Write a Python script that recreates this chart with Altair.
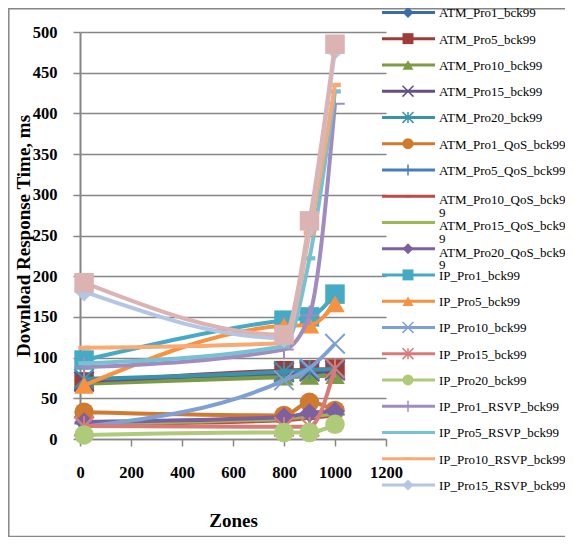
import altair as alt
import pandas as pd

# ---------------- data ----------------
zones = [16, 800, 900, 1000]

series_names = [
    "ATM_Pro1_bck99", "ATM_Pro5_bck99", "ATM_Pro10_bck99", "ATM_Pro15_bck99",
    "ATM_Pro20_bck99", "ATM_Pro1_QoS_bck99", "ATM_Pro5_QoS_bck99",
    "ATM_Pro10_QoS_bck99", "ATM_Pro15_QoS_bck99", "ATM_Pro20_QoS_bck99",
    "IP_Pro1_bck99", "IP_Pro5_bck99", "IP_Pro10_bck99", "IP_Pro15_bck99",
    "IP_Pro20_bck99", "IP_Pro1_RSVP_bck99", "IP_Pro5_RSVP_bck99",
    "IP_Pro10_RSVP_bck99", "IP_Pro15_RSVP_bck99", "IP_Pro20_RSVP_bck99",
]

response_times = [
    [72, 80, 82, 83],
    [70, 84, 85, 86],
    [68, 76, 77, 78],
    [71, 82, 83, 84],
    [74, 83, 85, 86],
    [33, 29, 45, 35],
    [19, 24, 27, 30],
    [18, 23, 26, 29],
    [19, 25, 28, 31],
    [21, 27, 32, 34],
    [97, 146, 150, 178],
    [66, 139, 140, 166],
    [15, 72, 87, 117],
    [16, 15, 15, 87],
    [5, 8, 8, 18],
    [88, 110, 152, 412],
    [93, 114, 222, 427],
    [112, 118, 253, 435],
    [181, 124, 262, 478],
    [192, 128, 268, 485],
]

series_colors = [
    "#3C6BAA", "#9E3C3A", "#7D9A45", "#664F87", "#3A93AB", "#D07A30",
    "#4A7EBB", "#BE4B48", "#98B954", "#7D60A0",
    "#46AAC5", "#F69240", "#7EA0D3", "#D87B78", "#AECB7A",
    "#A08CBF", "#78C0D4", "#F8AA72", "#B3C6E3", "#DAB3B2",
]

series_markers = [
    "diamond", "square", "triangle", "x", "star", "circle", "plus", "dash",
    "dash", "diamond", "square", "triangle", "x", "star", "circle", "plus",
    "dash", "dash", "diamond", "square",
]

legend_labels = [
    "ATM_Pro1_bck99", "ATM_Pro5_bck99", "ATM_Pro10_bck99", "ATM_Pro15_bck99",
    "ATM_Pro20_bck99", "ATM_Pro1_QoS_bck99", "ATM_Pro5_QoS_bck99",
    "ATM_Pro10_QoS_bck9\n9", "ATM_Pro15_QoS_bck9\n9", "ATM_Pro20_QoS_bck9\n9",
    "IP_Pro1_bck99", "IP_Pro5_bck99", "IP_Pro10_bck99", "IP_Pro15_bck99",
    "IP_Pro20_bck99", "IP_Pro1_RSVP_bck99", "IP_Pro5_RSVP_bck99",
    "IP_Pro10_RSVP_bck99", "IP_Pro15_RSVP_bck99",
]

x_ticks = [0, 200, 400, 600, 800, 1000, 1200]
y_ticks = [0, 50, 100, 150, 200, 250, 300, 350, 400, 450, 500]

# ---------------- styling ----------------
FONT = "Liberation Serif, Times New Roman, serif"
GRID = "#868686"

SHAPES = {
    "diamond": ("diamond", True),
    "square": ("square", True),
    "triangle": ("triangle-up", True),
    "circle": ("circle", True),
    "x": ("M-1,-1L1,1M-1,1L1,-1", False),
    "star": ("M-1,-1L1,1M-1,1L1,-1M0,-1L0,1", False),
    "plus": ("M-1,0L1,0M0,-1L0,1", False),
    "dash": ("M-0.6,-0.22L0.6,-0.22L0.6,0.22L-0.6,0.22Z", True),
}

rows = []
for name, vals in zip(series_names, response_times):
    for z, v in zip(zones, vals):
        rows.append({"series": name, "zone": z, "time": v})
df = pd.DataFrame(rows)

X = alt.X(
    "zone:Q",
    scale=alt.Scale(domain=[0, 1200], nice=False, zero=False),
    axis=alt.Axis(
        values=x_ticks, format="d", title="Zones", titleFont=FONT,
        titleFontSize=19, titleFontWeight="bold", titleColor="black",
        titleY=81, titleBaseline="middle", labelFont=FONT, labelFontSize=16.5,
        labelFontWeight="bold", labelColor="black", labelPadding=18,
        labelFlush=False, labelOverlap=False, tickSize=7, tickColor=GRID,
        tickWidth=1.5, domainColor=GRID, domainWidth=1.5, grid=False,
    ),
)
Y = alt.Y(
    "time:Q",
    scale=alt.Scale(domain=[0, 500], nice=False),
    axis=alt.Axis(
        values=y_ticks, format="d", title="Download Response Time, ms",
        titleFont=FONT, titleFontSize=19, titleFontWeight="bold",
        titleColor="black", titleX=-57, titleY=203.5, titleAlign="center",
        titleBaseline="middle", labelFont=FONT, labelFontSize=16.5,
        labelFontWeight="bold", labelColor="black", labelPadding=16,
        labelAlign="right", labelFlush=False, labelOverlap=False, tickSize=7,
        tickColor=GRID, tickWidth=1.5, domainColor=GRID, domainWidth=2,
        grid=True, gridColor=GRID, gridWidth=1.5,
    ),
)

layers = []
for name, color, marker in zip(series_names, series_colors, series_markers):
    base = alt.Chart(df).transform_filter(alt.datum.series == name)
    layers.append(
        base.mark_line(color=color, strokeWidth=4, interpolate="monotone")
        .encode(x=X, y=Y)
    )
    shape, filled = SHAPES[marker]
    if filled:
        pt = base.mark_point(shape=shape, filled=True, color=color, size=380,
                             opacity=1)
    else:
        pt = base.mark_point(shape=shape, filled=False, color=color, size=380,
                             strokeWidth=2, opacity=1)
    layers.append(pt.encode(x=X, y=Y))

main = alt.layer(*layers)

# ---------------- manual legend ----------------
n_leg = len(legend_labels)
leg = pd.DataFrame({
    "idx": list(range(n_leg)),
    "name": series_names[:n_leg],
    "label": legend_labels,
    "wrapped": ["\n" in s for s in legend_labels],
    "filled": [SHAPES[m][1] for m in series_markers[:n_leg]],
})
LY = alt.Y("idx:Q", scale=alt.Scale(domain=[0, 18], range=[-19.6, 452.9]),
           axis=None)
color_scale = alt.Scale(domain=series_names[:n_leg], range=series_colors[:n_leg])
shape_scale = alt.Scale(domain=series_names[:n_leg],
                        range=[SHAPES[m][0] for m in series_markers[:n_leg]])

leg_base = alt.Chart(leg)
leg_lines = leg_base.mark_rule(strokeWidth=3).encode(
    x=alt.value(302), x2=alt.value(355), y=LY,
    color=alt.Color("name:N", scale=color_scale, legend=None),
)
leg_pts_f = leg_base.transform_filter(alt.datum.filled).mark_point(
    filled=True, size=120, opacity=1).encode(
    x=alt.value(328), y=LY,
    color=alt.Color("name:N", scale=color_scale, legend=None),
    shape=alt.Shape("name:N", scale=shape_scale, legend=None),
)
leg_pts_s = leg_base.transform_filter(~alt.datum.filled).mark_point(
    filled=False, size=120, opacity=1, strokeWidth=1.5).encode(
    x=alt.value(328), y=LY,
    color=alt.Color("name:N", scale=color_scale, legend=None),
    shape=alt.Shape("name:N", scale=shape_scale, legend=None),
)
leg_text = leg_base.transform_filter(~alt.datum.wrapped).mark_text(
    align="left", baseline="middle", font=FONT, fontSize=13, dy=1,
    color="black").encode(x=alt.value(359), y=LY, text="label:N")
leg_text_w = leg_base.transform_filter(alt.datum.wrapped).mark_text(
    align="left", baseline="top", font=FONT, fontSize=13, dy=-2,
    lineBreak="\n", lineHeight=12.5, color="black").encode(
    x=alt.value(359), y=LY, text="label:N")

border = alt.Chart(pd.DataFrame({"a": [0]})).mark_rect(
    fill="white", fillOpacity=0, stroke=GRID, strokeWidth=1.5).encode(
    x=alt.value(-71.2), x2=alt.value(520), y=alt.value(-23.3),
    y2=alt.value(504.5))

legend = alt.layer(border, leg_lines, leg_pts_f, leg_pts_s, leg_text, leg_text_w)

chart = alt.layer(main, legend).resolve_scale(
    x="independent", y="independent", color="independent",
    shape="independent",
).properties(
    width=306, height=407, autosize="none",
    padding={"left": 72, "top": 24, "right": 179, "bottom": 98},
    background="white",
).configure_view(stroke=None)

chart.save("out.html", embed_options={"renderer": "svg", "actions": False})
